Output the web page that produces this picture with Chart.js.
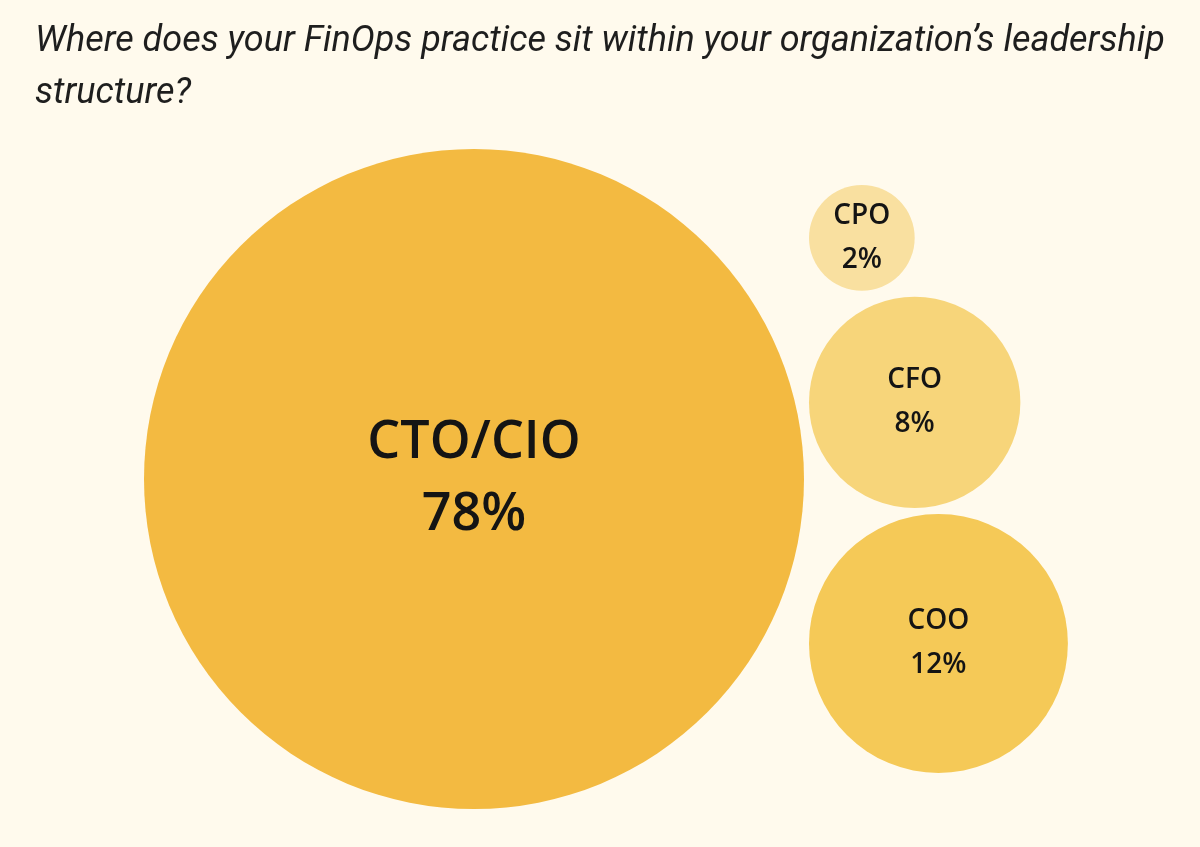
<!DOCTYPE html>
<html><head><meta charset="utf-8">
<script src="https://cdn.jsdelivr.net/npm/chart.js@4"></script>
<style>
html,body{margin:0;padding:0;background:#FFFAED;width:1200px;height:847px;overflow:hidden}
#wrap{position:absolute;left:0;top:0;width:1200px;height:847px}
#title{position:absolute;left:35px;top:13px;width:1165px;margin:0;font-family:Roboto,"Noto Sans",sans-serif;font-style:italic;font-weight:400;font-size:36px;line-height:52px;color:#1e1e1e;white-space:nowrap}
</style></head><body>
<div id="wrap"><canvas id="c" width="1200" height="847"></canvas></div>
<h1 id="title">Where does your FinOps practice sit within your organization’s leadership<br>structure?</h1>
<script>
// ---- data ----
const categories = ['CTO/CIO', 'CPO', 'CFO', 'COO'];
const shares = [78, 2, 8, 12];
const valueLabels = ['78%', '2%', '8%', '12%'];
const colors = ['#F3BA41', '#F9E0A0', '#F7D57A', '#F5C957'];

// ---- layout (area proportional to share) ----
const BIG_CX = 474, BIG_CY = 479, BIG_R = 330, GAP = 6;
const k = BIG_R / Math.sqrt(Math.max(...shares));
const radii = shares.map(v => k * Math.sqrt(v));
const bigIdx = shares.indexOf(Math.max(...shares));
const points = new Array(shares.length);
points[bigIdx] = {x: BIG_CX, y: BIG_CY, r: radii[bigIdx]};
const others = shares.map((v, i) => i).filter(i => i !== bigIdx).sort((a, b) => shares[a] - shares[b]);
const stackH = others.reduce((s, i) => s + 2 * radii[i], 0) + GAP * (others.length - 1);
let yCursor = BIG_CY - stackH / 2;
const leftEdge = BIG_CX + BIG_R + 5;
others.forEach(i => {
  points[i] = {x: leftEdge + radii[i], y: yCursor + radii[i], r: radii[i]};
  yCursor += 2 * radii[i] + GAP;
});

const labelPlugin = {
  id: 'bubbleLabels',
  afterDatasetsDraw(chart) {
    const ctx = chart.ctx;
    const meta = chart.getDatasetMeta(0);
    ctx.save();
    ctx.fillStyle = '#141414';
    ctx.textAlign = 'center';
    ctx.textBaseline = 'middle';
    meta.data.forEach((el, i) => {
      const r = el.options.radius;
      const big = r > 200;
      const fs = big ? 52 : 28;
      const off = big ? 36 : 22;
      ctx.font = '600 ' + fs + 'px "Open Sans", "Noto Sans", sans-serif';
      ctx.fillText(categories[i], el.x, el.y - off);
      ctx.fillText(valueLabels[i], el.x, el.y + off);
    });
    ctx.restore();
  }
};

new Chart(document.getElementById('c'), {
  type: 'bubble',
  data: {
    labels: categories,
    datasets: [{
      data: points,
      backgroundColor: colors,
      borderWidth: 0,
      hoverRadius: 0,
      hoverBorderWidth: 0,
      clip: false
    }]
  },
  options: {
    responsive: false,
    animation: false,
    layout: {padding: 0, autoPadding: false},
    plugins: {legend: {display: false}, tooltip: {enabled: false}},
    scales: {
      x: {type: 'linear', display: false, min: 0, max: 1200},
      y: {type: 'linear', display: false, min: 0, max: 847, reverse: true}
    }
  },
  plugins: [labelPlugin]
});
</script>
</body></html>
